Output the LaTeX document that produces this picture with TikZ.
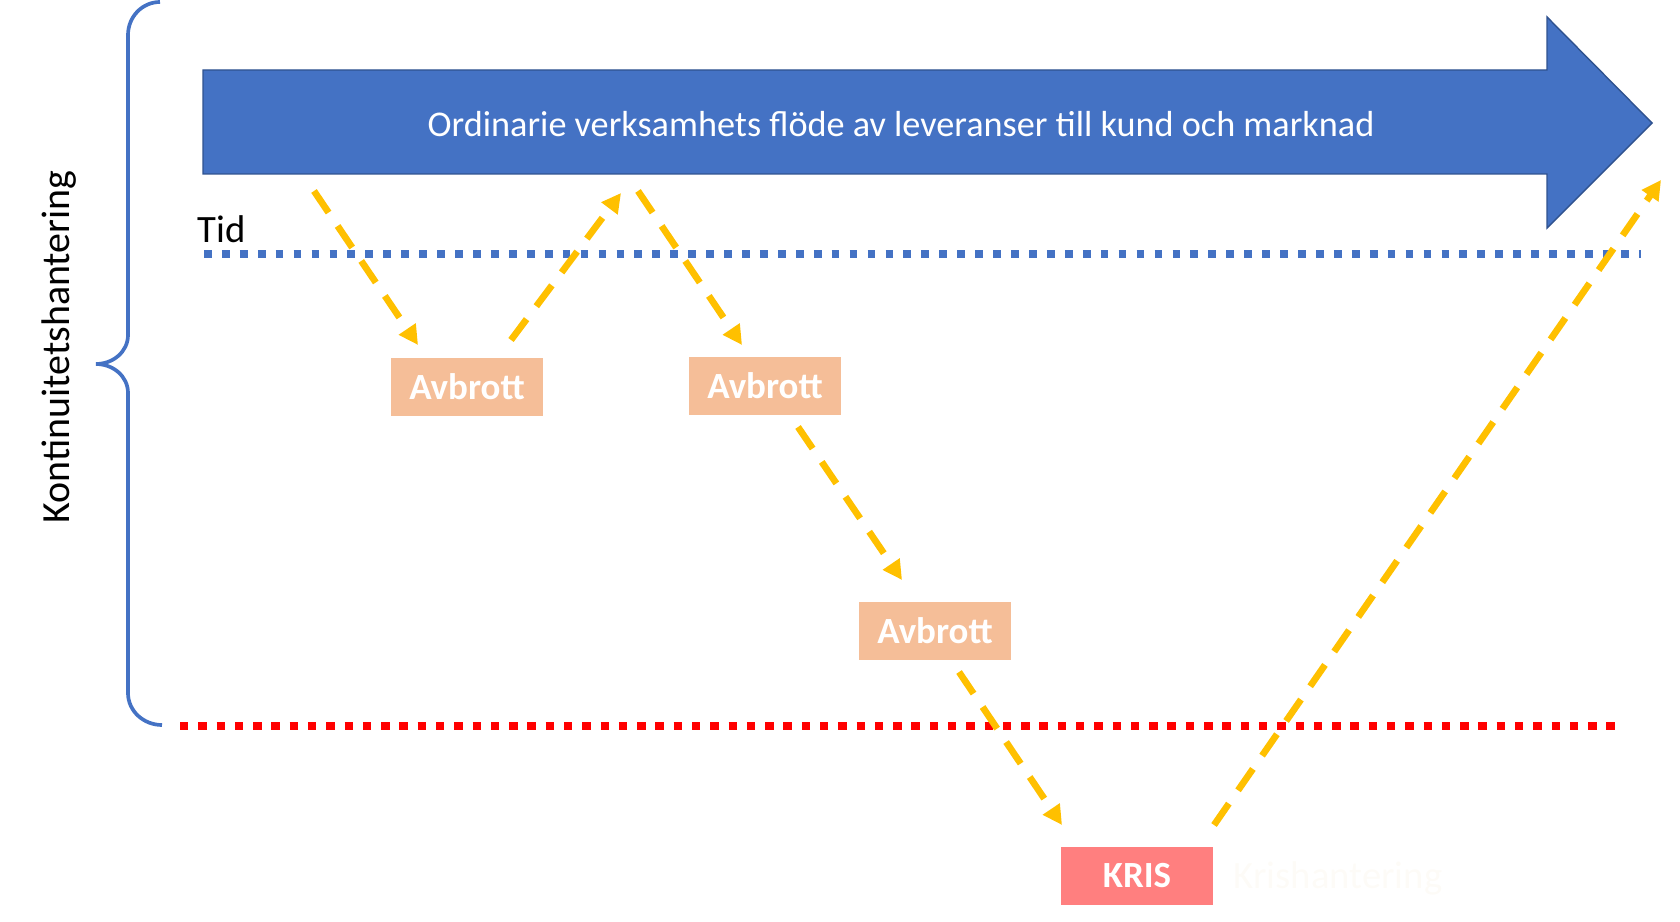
\documentclass[tikz,border=0pt]{standalone}
\usepackage{fontspec}
\setmainfont{Carlito}
\usetikzlibrary{arrows.meta, positioning, calc}
\definecolor{flowfill}{RGB}{68,114,196}
\definecolor{flowline}{RGB}{47,82,143}
\definecolor{avfill}{RGB}{245,190,152}
\definecolor{krisfill}{RGB}{255,127,127}
\definecolor{jumpline}{RGB}{255,192,0}
\definecolor{critline}{RGB}{255,0,0}
\definecolor{ghosttext}{RGB}{253,251,247}

\begin{document}
\begin{tikzpicture}[x=0.01cm, y=-0.01cm,
  eventbox/.style={fill=avfill, text=white, inner sep=0pt,
                   minimum width=1.52cm, minimum height=0.58cm,
                   font=\fontsize{10.5}{12}\selectfont\bfseries},
  crisisbox/.style={eventbox, fill=krisfill},
  timeline/.style={draw=flowfill, line width=2.2pt, dash pattern=on 2.2pt off 2.9pt},
  critlevel/.style={draw=critline, line width=2.4pt, dash pattern=on 2.4pt off 2.8pt},
  jump/.style={draw=jumpline, line width=1.9pt, dash pattern=on 7.4pt off 4.6pt,
               -{Triangle[length=5.5pt, width=5.5pt]}},
  bracestyle/.style={draw=flowfill, line width=1.05pt},
]
\useasboundingbox (0,0) rectangle (1680,922);

% =================================================================
% FLOW ARROW
% =================================================================
\filldraw[fill=flowfill, draw=flowline, line width=0.4pt]
  (203,70) -- (1547,70) -- (1547,17) -- (1652,123) -- (1547,228)
  -- (1547,174) -- (203,174) -- cycle;
\node[text=white, font=\fontsize{10.3}{12}\selectfont] (flow) at (901,124)
  {Ordinarie verksamhets flöde av leveranser till kund och marknad};

% =================================================================
% TIME LINE AND CRISIS LEVEL
% =================================================================
\coordinate (tidstart) at (204,254);
\coordinate (tidend) at (1641,254);
\draw[timeline] (tidstart) -- (tidend);
\node[anchor=base west, inner sep=0pt, font=\fontsize{11}{13}\selectfont]
  (tid) at (197,243) {Tid};

\coordinate (critstart) at (180,726);
\coordinate (critend) at (1618,726);
\draw[critlevel] (critstart) -- (critend);

% =================================================================
% BRACE
% =================================================================
\draw[bracestyle] (160,2) to[out=180, in=90] (128,35) -- (128,335)
  to[out=-90, in=0] (96,364) to[out=0, in=90] (128,393) -- (128,693)
  to[out=-90, in=180] (162,725);
\node[rotate=90, font=\fontsize{11.35}{13}\selectfont] (kont) at (59,347)
  {Kontinuitetshantering};

% =================================================================
% EVENTS
% =================================================================
\node[eventbox] (av1) at (467,387) {Avbrott};
\node[eventbox] (av2) at (765,386) {Avbrott};
\node[eventbox] (av3) at (935,631) {Avbrott};
\node[crisisbox] (kris) at (1137,876) {KRIS};
\node[anchor=base west, inner sep=0pt, text=ghosttext,
      font=\fontsize{11}{13}\selectfont] (krish) at (1233,888) {Krishantering};

% =================================================================
% JUMPS
% =================================================================
\coordinate (j1a) at (314,191);
\coordinate (j1b) at (418,345);
\coordinate (j2a) at (511,340);
\coordinate (j2b) at (621,193);
\coordinate (j3a) at (638,191);
\coordinate (j3b) at (742,345);
\coordinate (j4a) at (798,427);
\coordinate (j4b) at (902,580);
\coordinate (j5a) at (959,672);
\coordinate (j5b) at (1062,825);
\coordinate (j6a) at (1214,825);
\coordinate (j6b) at (1661,180);
\draw[jump] (j1a) -- (j1b);
\draw[jump] (j2a) -- (j2b);
\draw[jump] (j3a) -- (j3b);
\draw[jump] (j4a) -- (j4b);
\draw[jump] (j5a) -- (j5b);
\draw[jump] (j6a) -- (j6b);

\end{tikzpicture}
\end{document}
